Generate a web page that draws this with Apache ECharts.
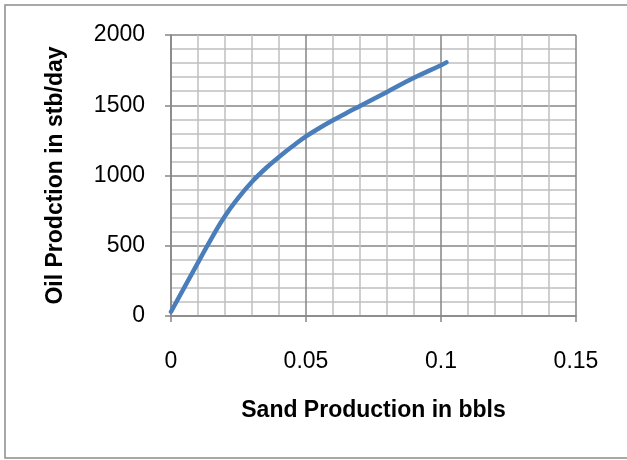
<!DOCTYPE html>
<html>
<head>
<meta charset="utf-8">
<script src="https://cdn.jsdelivr.net/npm/echarts@6/dist/echarts.min.js"></script>
<style>
html,body{margin:0;padding:0;background:#fff;}
#chart{width:627px;height:460px;}
</style>
</head>
<body>
<div id="chart"></div>
<script>
// Data
var sandProduction = [0, 0.005, 0.01, 0.015, 0.02, 0.025, 0.03, 0.035, 0.04, 0.045, 0.05, 0.055, 0.06, 0.065, 0.07, 0.08, 0.09, 0.1, 0.102];
var oilProduction  = [30, 205, 380, 553, 712, 843, 955, 1050, 1132, 1208, 1278, 1338, 1393, 1445, 1495, 1595, 1695, 1785, 1805];
var xTickValues = [0, 0.05, 0.1, 0.15];
var xTickLabels = ['0', '0.05', '0.1', '0.15'];
var yTickLabels = ['0', '500', '1000', '1500', '2000'];
var xTitle = 'Sand Production in bbls';
var yTitle = 'Oil Prodction in stb/day';

var points = sandProduction.map(function (s, i) { return [s, oilProduction[i]]; });
var FONT = 'Liberation Sans';

var chart = echarts.init(document.getElementById('chart'), null, {renderer: 'canvas'});
chart.setOption({
  animation: false,
  backgroundColor: '#ffffff',
  graphic: [{
    type: 'rect',
    shape: {x: 5, y: 5, width: 700, height: 453},
    style: {fill: 'none', stroke: '#8c8c8c', lineWidth: 1.5},
    z: 0
  }],
  grid: {left: 171, right: 51, top: 35, bottom: 144, containLabel: false},
  xAxis: {
    type: 'value',
    min: 0, max: 0.15, interval: 0.05,
    name: xTitle,
    nameLocation: 'middle',
    nameGap: 83,
    nameTextStyle: {fontFamily: FONT, fontSize: 23, fontWeight: 'bold', color: '#000'},
    axisLine: {show: true, lineStyle: {color: '#868686', width: 1.5}},
    axisTick: {show: true, inside: false, length: 6, lineStyle: {color: '#868686', width: 1.5}},
    axisLabel: {
      margin: 34, fontFamily: FONT, fontSize: 23, color: '#000',
      formatter: function (v) {
        for (var i = 0; i < xTickValues.length; i++) {
          if (Math.abs(v - xTickValues[i]) < 1e-9) return xTickLabels[i];
        }
        return '';
      }
    },
    splitLine: {show: true, lineStyle: {color: '#868686', width: 1.5}},
    minorTick: {show: false, splitNumber: 5},
    minorSplitLine: {show: true, lineStyle: {color: '#c0c0c0', width: 1.5}}
  },
  yAxis: {
    type: 'value',
    min: 0, max: 2000, interval: 500,
    name: yTitle,
    nameLocation: 'middle',
    nameGap: 104,
    nameRotate: 90,
    nameTextStyle: {fontFamily: FONT, fontSize: 23, fontWeight: 'bold', color: '#000'},
    axisLine: {show: true, lineStyle: {color: '#868686', width: 1.5}},
    axisTick: {show: true, inside: false, length: 6, lineStyle: {color: '#868686', width: 1.5}},
    axisLabel: {
      margin: 26, fontFamily: FONT, fontSize: 23, color: '#000',
      formatter: function (v) { return yTickLabels[Math.round(v / 500)] || ''; }
    },
    splitLine: {show: true, lineStyle: {color: '#868686', width: 1.5}},
    minorTick: {show: false, splitNumber: 5},
    minorSplitLine: {show: true, lineStyle: {color: '#c0c0c0', width: 1.5}}
  },
  series: [{
    type: 'line',
    data: points,
    smooth: 0.5,
    showSymbol: false,
    symbol: 'none',
    lineStyle: {color: '#4a7ebb', width: 4.5, cap: 'round', join: 'round'},
    z: 5
  }]
});
</script>
</body>
</html>
